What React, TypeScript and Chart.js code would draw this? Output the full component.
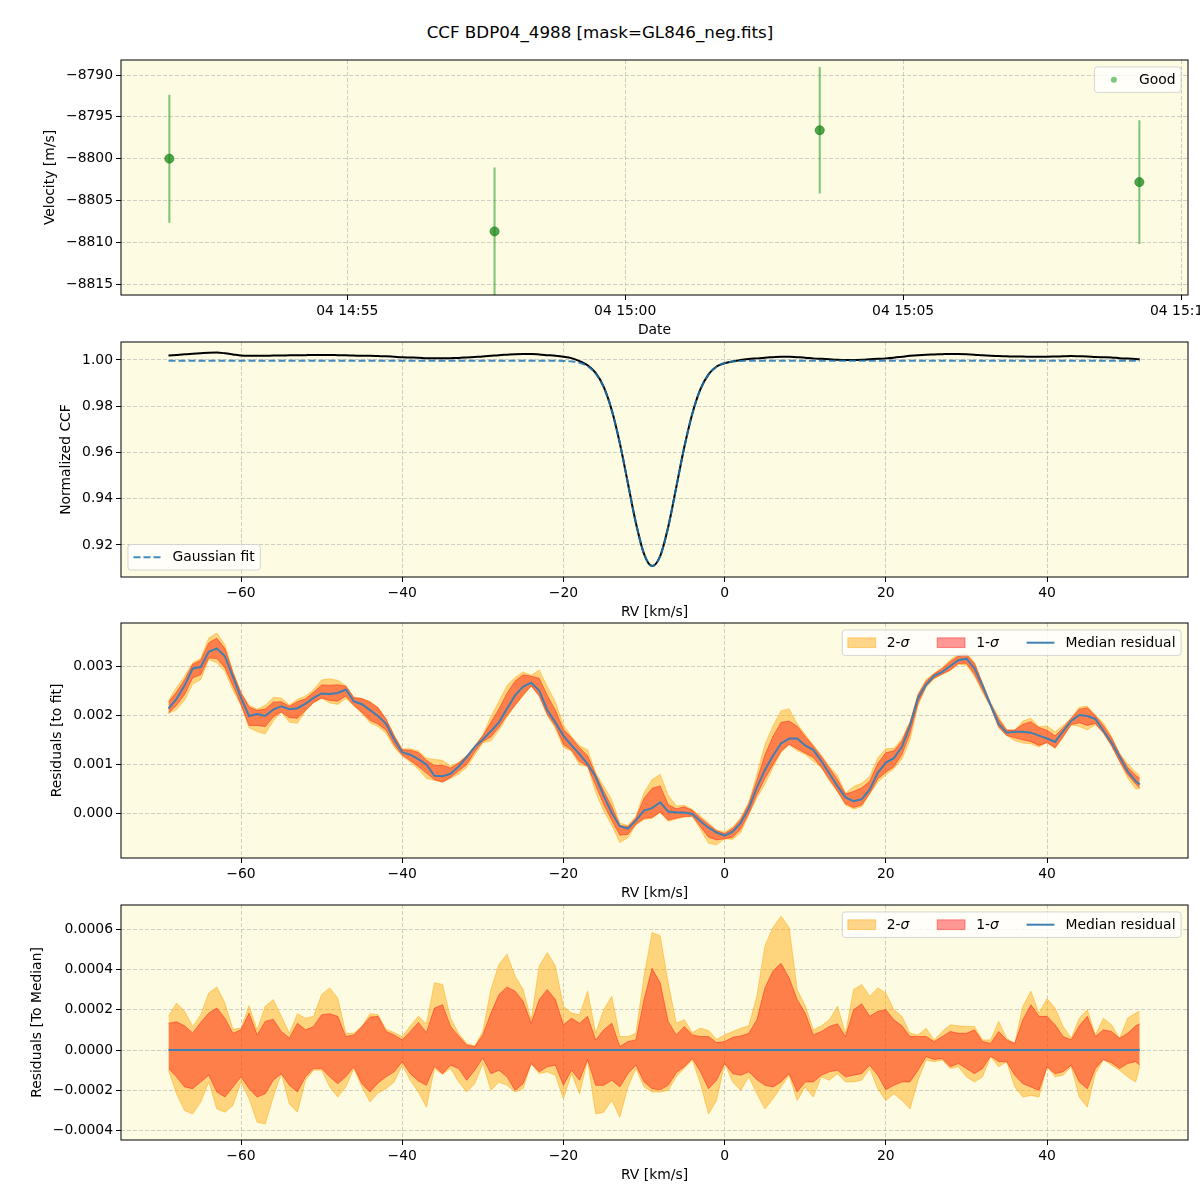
import React, { useEffect, useRef } from 'react';
import { Chart, registerables } from 'chart.js';

Chart.register(...registerables);

const FONT = '"DejaVu Sans", sans-serif';
const FS = 13.9;

// ---------- Panel 1: RV time series ----------
const OBS_TIMES = ['14:51:48', '14:57:39', '15:03:30', '15:09:15'];
const OBS_VEL = [-8800.0, -8808.7, -8796.6, -8802.8];
const OBS_ERR = [7.65, 7.65, 7.55, 7.4];
const TIME_TICKS = ['14:55', '15:00', '15:05', '15:10'];
const VEL_TICKS = [-8815, -8810, -8805, -8800, -8795, -8790];

// ---------- Panels 2-4: CCF and residuals ----------
const RV = [
  -69, -68, -67, -66, -65, -64, -63, -62, -61, -60,
  -59, -58, -57, -56, -55, -54, -53, -52, -51, -50,
  -49, -48, -47, -46, -45, -44, -43, -42, -41, -40,
  -39, -38, -37, -36, -35, -34, -33, -32, -31, -30,
  -29, -28, -27, -26, -25, -24, -23, -22, -21, -20,
  -19, -18, -17, -16, -15, -14, -13, -12, -11, -10,
  -9, -8, -7, -6, -5, -4, -3, -2, -1, 0,
  1, 2, 3, 4, 5, 6, 7, 8, 9, 10,
  11, 12, 13, 14, 15, 16, 17, 18, 19, 20,
  21, 22, 23, 24, 25, 26, 27, 28, 29, 30,
  31, 32, 33, 34, 35, 36, 37, 38, 39, 40,
  41, 42, 43, 44, 45, 46, 47, 48, 49, 50,
  51, 51.5,
];

const CCF = [
  1.0019, 1.0022, 1.0025, 1.0027, 1.0029, 1.0031, 1.0032, 1.0029, 1.0024, 1.0019,
  1.0018, 1.0018, 1.0018, 1.0019, 1.0019, 1.0020, 1.0020, 1.0021, 1.0022, 1.0022,
  1.0022, 1.0021, 1.0020, 1.0019, 1.0018, 1.0018, 1.0017, 1.0016, 1.0014, 1.0012,
  1.0011, 1.0010, 1.0008, 1.0007, 1.0007, 1.0008, 1.0009, 1.0011, 1.0013, 1.0015,
  1.0018, 1.0021, 1.0023, 1.0025, 1.0026, 1.0026, 1.0024, 1.0021, 1.0018, 1.0014,
  1.0008, 0.9995, 0.9977, 0.9944, 0.9884, 0.9783, 0.9640, 0.9467, 0.9294, 0.9162,
  0.9109, 0.9152, 0.9278, 0.9450, 0.9624, 0.9769, 0.9874, 0.9938, 0.9972, 0.9986,
  0.9994, 1.0000, 1.0004, 1.0007, 1.0010, 1.0012, 1.0014, 1.0014, 1.0012, 1.0010,
  1.0007, 1.0005, 1.0003, 1.0001, 1.0000, 1.0000, 1.0001, 1.0003, 1.0005, 1.0007,
  1.0010, 1.0014, 1.0018, 1.0021, 1.0023, 1.0024, 1.0025, 1.0026, 1.0026, 1.0025,
  1.0023, 1.0020, 1.0018, 1.0017, 1.0016, 1.0015, 1.0015, 1.0014, 1.0014, 1.0014,
  1.0015, 1.0016, 1.0017, 1.0016, 1.0015, 1.0013, 1.0012, 1.0011, 1.0008, 1.0006,
  1.0004, 1.0003,
];

const GAUSS_FIT = [
  0.9997, 0.9997, 0.9997, 0.9997, 0.9997, 0.9997, 0.9997, 0.9997, 0.9997, 0.9997,
  0.9997, 0.9997, 0.9997, 0.9997, 0.9997, 0.9997, 0.9997, 0.9997, 0.9997, 0.9997,
  0.9997, 0.9997, 0.9997, 0.9997, 0.9997, 0.9997, 0.9997, 0.9997, 0.9997, 0.9997,
  0.9997, 0.9997, 0.9997, 0.9997, 0.9997, 0.9997, 0.9997, 0.9997, 0.9997, 0.9997,
  0.9997, 0.9997, 0.9997, 0.9997, 0.9997, 0.9997, 0.9997, 0.9997, 0.9997, 0.9996,
  0.9994, 0.9988, 0.9973, 0.9941, 0.9881, 0.9782, 0.9640, 0.9467, 0.9294, 0.9162,
  0.9109, 0.9152, 0.9278, 0.9450, 0.9624, 0.9769, 0.9873, 0.9936, 0.9970, 0.9987,
  0.9993, 0.9996, 0.9997, 0.9997, 0.9997, 0.9997, 0.9997, 0.9997, 0.9997, 0.9997,
  0.9997, 0.9997, 0.9997, 0.9997, 0.9997, 0.9997, 0.9997, 0.9997, 0.9997, 0.9997,
  0.9997, 0.9997, 0.9997, 0.9997, 0.9997, 0.9997, 0.9997, 0.9997, 0.9997, 0.9997,
  0.9997, 0.9997, 0.9997, 0.9997, 0.9997, 0.9997, 0.9997, 0.9997, 0.9997, 0.9997,
  0.9997, 0.9997, 0.9997, 0.9997, 0.9997, 0.9997, 0.9997, 0.9997, 0.9997, 0.9997,
  0.9997, 0.9997,
];

const MEDIAN_RESID = [
  2.13e-3, 2.33e-3, 2.60e-3, 2.95e-3, 2.98e-3, 3.29e-3, 3.36e-3, 3.20e-3, 2.78e-3, 2.35e-3,
  1.98e-3, 2.02e-3, 1.98e-3, 2.11e-3, 2.18e-3, 2.12e-3, 2.14e-3, 2.23e-3, 2.35e-3, 2.44e-3,
  2.43e-3, 2.45e-3, 2.52e-3, 2.28e-3, 2.22e-3, 2.10e-3, 1.98e-3, 1.82e-3, 1.50e-3, 1.24e-3,
  1.19e-3, 1.10e-3, 0.99e-3, 0.76e-3, 0.75e-3, 0.80e-3, 0.95e-3, 1.14e-3, 1.35e-3, 1.50e-3,
  1.67e-3, 1.85e-3, 2.13e-3, 2.40e-3, 2.58e-3, 2.66e-3, 2.50e-3, 2.10e-3, 1.85e-3, 1.58e-3,
  1.38e-3, 1.20e-3, 1.00e-3, 0.74e-3, 0.35e-3, 0.00e-3, -0.27e-3, -0.32e-3, -0.15e-3, 0.05e-3,
  0.10e-3, 0.22e-3, 0.03e-3, 0.01e-3, 0.01e-3, -0.02e-3, -0.17e-3, -0.30e-3, -0.40e-3, -0.46e-3,
  -0.38e-3, -0.20e-3, 0.10e-3, 0.52e-3, 0.88e-3, 1.17e-3, 1.42e-3, 1.52e-3, 1.52e-3, 1.38e-3,
  1.29e-3, 1.06e-3, 0.80e-3, 0.55e-3, 0.32e-3, 0.24e-3, 0.28e-3, 0.48e-3, 0.82e-3, 1.03e-3,
  1.12e-3, 1.35e-3, 1.78e-3, 2.35e-3, 2.62e-3, 2.80e-3, 2.88e-3, 3.00e-3, 3.12e-3, 3.15e-3,
  2.95e-3, 2.60e-3, 2.20e-3, 1.82e-3, 1.64e-3, 1.66e-3, 1.66e-3, 1.64e-3, 1.58e-3, 1.52e-3,
  1.45e-3, 1.67e-3, 1.88e-3, 2.00e-3, 1.98e-3, 1.92e-3, 1.68e-3, 1.44e-3, 1.15e-3, 0.85e-3,
  0.65e-3, 0.58e-3,
];

// deviations from the median residual (upper / lower edges of the 1-sigma and 2-sigma bands)
const SIG1_HI = [
  1.33e-4, 1.40e-4, 1.20e-4, 0.85e-4, 1.37e-4, 1.83e-4, 2.08e-4, 1.58e-4, 0.83e-4, 1.00e-4,
  1.83e-4, 0.75e-4, 1.42e-4, 1.53e-4, 0.92e-4, 0.60e-4, 1.33e-4, 1.00e-4, 1.17e-4, 1.75e-4,
  1.80e-4, 1.67e-4, 0.67e-4, 0.75e-4, 1.17e-4, 1.63e-4, 1.67e-4, 0.92e-4, 0.75e-4, 0.50e-4,
  0.92e-4, 1.37e-4, 0.87e-4, 2.08e-4, 2.25e-4, 1.17e-4, 0.70e-4, 0.25e-4, 0.17e-4, 0.75e-4,
  1.83e-4, 2.75e-4, 3.13e-4, 2.92e-4, 2.42e-4, 1.33e-4, 2.50e-4, 3.00e-4, 2.50e-4, 1.25e-4,
  1.58e-4, 1.33e-4, 1.67e-4, 0.50e-4, 1.00e-4, 1.33e-4, 0.17e-4, 0.42e-4, 0.50e-4, 2.50e-4,
  4.05e-4, 3.33e-4, 1.42e-4, 0.75e-4, 1.17e-4, 0.75e-4, 0.67e-4, 0.67e-4, 0.37e-4, 0.42e-4,
  0.63e-4, 0.70e-4, 0.83e-4, 1.50e-4, 3.08e-4, 3.92e-4, 4.30e-4, 3.58e-4, 2.50e-4, 1.83e-4,
  0.75e-4, 0.92e-4, 1.17e-4, 1.30e-4, 0.67e-4, 2.00e-4, 2.30e-4, 1.67e-4, 1.92e-4, 2.00e-4,
  1.50e-4, 1.20e-4, 0.67e-4, 0.67e-4, 0.67e-4, 0.42e-4, 0.67e-4, 0.92e-4, 0.83e-4, 0.83e-4,
  1.00e-4, 0.42e-4, 0.33e-4, 0.92e-4, 0.50e-4, 0.33e-4, 1.50e-4, 2.25e-4, 1.67e-4, 1.67e-4,
  1.25e-4, 0.67e-4, 0.50e-4, 1.20e-4, 1.67e-4, 0.67e-4, 1.00e-4, 0.92e-4, 0.58e-4, 0.83e-4,
  1.20e-4, 1.30e-4,
];

const SIG2_HI = [
  1.67e-4, 2.33e-4, 1.92e-4, 1.17e-4, 1.75e-4, 2.83e-4, 3.13e-4, 2.33e-4, 1.03e-4, 1.08e-4,
  2.20e-4, 1.00e-4, 2.17e-4, 2.50e-4, 1.67e-4, 0.83e-4, 1.80e-4, 1.58e-4, 1.67e-4, 2.75e-4,
  3.08e-4, 2.58e-4, 0.83e-4, 0.83e-4, 1.17e-4, 1.80e-4, 1.75e-4, 1.03e-4, 0.87e-4, 0.67e-4,
  1.20e-4, 1.67e-4, 1.30e-4, 3.33e-4, 3.25e-4, 1.58e-4, 0.83e-4, 0.33e-4, 0.20e-4, 0.92e-4,
  3.00e-4, 4.25e-4, 4.75e-4, 3.67e-4, 3.00e-4, 1.50e-4, 4.17e-4, 4.83e-4, 4.17e-4, 2.17e-4,
  1.83e-4, 1.75e-4, 2.92e-4, 0.83e-4, 2.00e-4, 2.67e-4, 0.67e-4, 0.67e-4, 0.83e-4, 3.67e-4,
  5.83e-4, 5.67e-4, 3.33e-4, 1.33e-4, 1.50e-4, 0.87e-4, 1.08e-4, 0.97e-4, 0.53e-4, 0.75e-4,
  0.92e-4, 1.08e-4, 1.20e-4, 2.67e-4, 5.17e-4, 6.08e-4, 6.63e-4, 6.08e-4, 3.00e-4, 2.20e-4,
  1.00e-4, 1.20e-4, 1.50e-4, 2.17e-4, 0.83e-4, 3.00e-4, 3.25e-4, 2.67e-4, 3.08e-4, 2.83e-4,
  2.00e-4, 1.67e-4, 0.83e-4, 0.75e-4, 1.08e-4, 0.50e-4, 0.92e-4, 1.25e-4, 1.20e-4, 1.17e-4,
  1.17e-4, 0.50e-4, 0.50e-4, 1.42e-4, 0.58e-4, 0.33e-4, 2.17e-4, 2.92e-4, 1.83e-4, 2.55e-4,
  2.08e-4, 1.17e-4, 0.58e-4, 1.58e-4, 2.00e-4, 0.75e-4, 1.58e-4, 1.25e-4, 0.58e-4, 1.58e-4,
  1.83e-4, 1.92e-4,
];

const SIG1_LO = [
  -0.92e-4, -1.33e-4, -1.83e-4, -1.92e-4, -1.58e-4, -1.25e-4, -2.08e-4, -2.33e-4, -1.83e-4, -1.33e-4,
  -1.92e-4, -2.33e-4, -2.17e-4, -1.50e-4, -1.17e-4, -1.75e-4, -2.08e-4, -1.33e-4, -0.92e-4, -0.92e-4,
  -1.33e-4, -1.67e-4, -1.33e-4, -0.83e-4, -1.67e-4, -2.08e-4, -1.63e-4, -1.33e-4, -1.08e-4, -0.58e-4,
  -1.17e-4, -1.53e-4, -1.75e-4, -0.80e-4, -1.17e-4, -0.75e-4, -0.92e-4, -1.50e-4, -1.00e-4, -0.40e-4,
  -1.17e-4, -1.00e-4, -1.33e-4, -2.00e-4, -1.67e-4, -0.67e-4, -1.08e-4, -0.83e-4, -0.75e-4, -1.75e-4,
  -1.00e-4, -1.50e-4, -0.47e-4, -1.75e-4, -1.75e-4, -1.50e-4, -1.83e-4, -1.17e-4, -0.75e-4, -1.58e-4,
  -1.92e-4, -1.97e-4, -1.75e-4, -1.13e-4, -0.83e-4, -0.42e-4, -1.08e-4, -1.92e-4, -1.50e-4, -0.67e-4,
  -1.17e-4, -1.25e-4, -1.08e-4, -1.47e-4, -1.75e-4, -1.83e-4, -1.58e-4, -1.17e-4, -2.08e-4, -1.58e-4,
  -1.58e-4, -1.25e-4, -1.08e-4, -1.00e-4, -1.33e-4, -1.25e-4, -1.17e-4, -0.75e-4, -1.25e-4, -1.97e-4,
  -1.75e-4, -1.58e-4, -1.58e-4, -1.00e-4, -0.33e-4, -0.47e-4, -0.42e-4, -0.83e-4, -0.67e-4, -0.92e-4,
  -1.17e-4, -0.92e-4, -0.30e-4, -0.58e-4, -0.58e-4, -1.25e-4, -1.67e-4, -1.83e-4, -2.00e-4, -0.83e-4,
  -1.17e-4, -1.08e-4, -0.75e-4, -1.58e-4, -1.92e-4, -0.92e-4, -0.47e-4, -0.63e-4, -0.92e-4, -0.67e-4,
  -0.58e-4, -0.75e-4,
];

const SIG2_LO = [
  -1.00e-4, -2.17e-4, -3.00e-4, -3.17e-4, -2.58e-4, -1.58e-4, -2.92e-4, -3.08e-4, -2.75e-4, -1.58e-4,
  -2.42e-4, -3.58e-4, -3.67e-4, -2.33e-4, -1.17e-4, -2.67e-4, -3.08e-4, -1.50e-4, -1.00e-4, -1.00e-4,
  -1.83e-4, -2.33e-4, -1.83e-4, -0.92e-4, -1.83e-4, -2.58e-4, -2.13e-4, -1.92e-4, -1.58e-4, -0.75e-4,
  -1.50e-4, -2.08e-4, -2.83e-4, -0.92e-4, -1.20e-4, -0.92e-4, -1.58e-4, -2.08e-4, -1.67e-4, -0.67e-4,
  -2.00e-4, -1.58e-4, -1.75e-4, -2.08e-4, -1.92e-4, -0.67e-4, -1.17e-4, -1.08e-4, -1.25e-4, -2.42e-4,
  -1.17e-4, -2.17e-4, -0.50e-4, -3.17e-4, -3.08e-4, -2.50e-4, -3.33e-4, -1.83e-4, -0.92e-4, -1.83e-4,
  -2.08e-4, -2.08e-4, -2.00e-4, -1.33e-4, -0.90e-4, -0.50e-4, -1.67e-4, -3.17e-4, -2.50e-4, -0.67e-4,
  -1.58e-4, -2.00e-4, -1.33e-4, -2.17e-4, -2.92e-4, -2.42e-4, -1.83e-4, -1.25e-4, -2.50e-4, -1.83e-4,
  -2.33e-4, -1.33e-4, -1.50e-4, -1.17e-4, -1.58e-4, -1.58e-4, -1.50e-4, -0.92e-4, -1.92e-4, -2.50e-4,
  -2.17e-4, -2.50e-4, -2.92e-4, -1.50e-4, -0.50e-4, -0.58e-4, -0.50e-4, -0.92e-4, -0.83e-4, -1.33e-4,
  -1.58e-4, -1.33e-4, -0.33e-4, -0.83e-4, -0.58e-4, -1.83e-4, -2.33e-4, -2.25e-4, -2.33e-4, -0.83e-4,
  -1.33e-4, -1.25e-4, -0.83e-4, -2.33e-4, -2.83e-4, -1.17e-4, -0.47e-4, -0.75e-4, -1.00e-4, -1.33e-4,
  -1.58e-4, -0.83e-4,
];

const RV_TICKS = [-60, -40, -20, 0, 20, 40];
const CCF_TICKS = [0.92, 0.94, 0.96, 0.98, 1.0];
const RESID_TICKS = [0, 0.001, 0.002, 0.003];
const DEV_TICKS = [-0.0004, -0.0002, 0, 0.0002, 0.0004, 0.0006];

// ---------- styles ----------
const BG = 'rgb(253, 251, 226)';
const GRID = 'rgba(176, 176, 176, 0.6)';
const S2_FILL = 'rgba(255, 165, 0, 0.45)';
const S1_FILL = 'rgba(255, 0, 0, 0.4)';
const MED_COLOR = '#3f7fb4';
const Y_AXIS_W = 121;
const X_AXIS_H = 44;
const PAD_TOP = 10;
const CANVAS_H = PAD_TOP + 235 + X_AXIS_H;

const toMin = (t: string) => {
  const p = t.split(':').map(Number);
  return p[0] * 60 + p[1] + (p[2] || 0) / 60;
};
const pad2 = (n: number) => String(n).padStart(2, '0');
const minus = (s: string) => s.replace(/-/g, '\u2212');

type Part = { t: string; italic?: boolean };
type LItem = { kind: 'patch' | 'line' | 'dot'; color: string; dash?: number[]; width?: number; parts: Part[] };
type LegendSpec = { corner: 'tr' | 'bl'; items: LItem[] };

function drawLegend(chart: any, spec: LegendSpec) {
  const { ctx, chartArea: a } = chart;
  const fN = `${FS}px ${FONT}`;
  const fI = `italic ${FS}px ${FONT}`;
  const handle = 2 * FS, tpad = 0.8 * FS, colsp = 2 * FS, bpad = 0.4 * FS, apad = 0.5 * FS;
  ctx.save();
  const tw = spec.items.map((it) =>
    it.parts.reduce((s, p) => {
      ctx.font = p.italic ? fI : fN;
      return s + ctx.measureText(p.t).width;
    }, 0)
  );
  const w = 2 * bpad + spec.items.reduce((s, _it, i) => s + handle + tpad + tw[i], 0) + colsp * (spec.items.length - 1);
  const h = 25.5;
  const left = spec.corner === 'tr' ? a.right - apad - w : a.left + apad;
  const top = spec.corner === 'tr' ? a.top + apad : a.bottom - apad - h;
  ctx.beginPath();
  if ((ctx as any).roundRect) (ctx as any).roundRect(left, top, w, h, 3);
  else ctx.rect(left, top, w, h);
  ctx.fillStyle = 'rgba(255,255,255,0.8)';
  ctx.fill();
  ctx.strokeStyle = 'rgba(204,204,204,0.8)';
  ctx.lineWidth = 1;
  ctx.stroke();
  const cy = top + h / 2;
  let x = left + bpad;
  spec.items.forEach((it, i) => {
    if (it.kind === 'patch') {
      ctx.fillStyle = it.color;
      ctx.fillRect(x, cy - 0.35 * FS, handle, 0.7 * FS);
      ctx.strokeStyle = it.color;
      ctx.lineWidth = 1;
      ctx.strokeRect(x, cy - 0.35 * FS, handle, 0.7 * FS);
    } else if (it.kind === 'line') {
      ctx.beginPath();
      ctx.setLineDash(it.dash || []);
      ctx.strokeStyle = it.color;
      ctx.lineWidth = it.width || 2;
      ctx.moveTo(x, cy);
      ctx.lineTo(x + handle, cy);
      ctx.stroke();
      ctx.setLineDash([]);
    } else {
      ctx.beginPath();
      ctx.fillStyle = it.color;
      ctx.arc(x + handle / 2, cy, 3, 0, Math.PI * 2);
      ctx.fill();
    }
    let tx = x + handle + tpad;
    ctx.fillStyle = '#000';
    ctx.textBaseline = 'middle';
    ctx.textAlign = 'left';
    it.parts.forEach((p) => {
      ctx.font = p.italic ? fI : fN;
      ctx.fillText(p.t, tx, cy + 0.5);
      tx += ctx.measureText(p.t).width;
    });
    x += handle + tpad + tw[i] + colsp;
  });
  ctx.restore();
}

function decoPlugin(legend: LegendSpec) {
  return {
    id: 'deco',
    beforeDraw(chart: any) {
      const { ctx, chartArea: a } = chart;
      ctx.save();
      ctx.fillStyle = BG;
      ctx.fillRect(a.left, a.top, a.right - a.left, a.bottom - a.top);
      ctx.restore();
    },
    afterDraw(chart: any) {
      const { ctx, chartArea: a } = chart;
      ctx.save();
      ctx.strokeStyle = '#000';
      ctx.lineWidth = 1;
      ctx.strokeRect(a.left, a.top, a.right - a.left, a.bottom - a.top);
      ctx.restore();
      drawLegend(chart, legend);
    },
  };
}

const tickFont = { family: FONT, size: FS };

function xScale(min: number, max: number, ticks: number[], fmt: (v: number) => string, title: string) {
  return {
    type: 'linear',
    min,
    max,
    afterBuildTicks: (s: any) => {
      s.ticks = ticks.map((v) => ({ value: v }));
    },
    afterFit: (s: any) => {
      s.height = X_AXIS_H;
      s.paddingLeft = 0;
      s.paddingRight = 0;
    },
    ticks: {
      callback: (v: any) => fmt(Number(v)),
      autoSkip: false,
      maxRotation: 0,
      minRotation: 0,
      padding: 3,
      color: '#000',
      font: tickFont,
    },
    grid: { color: GRID, lineWidth: 1, drawTicks: true, tickLength: 5, tickColor: '#000', tickWidth: 1 },
    border: { display: false, dash: [4, 2] },
    title: { display: true, text: title, color: '#000', font: tickFont, padding: { top: 0, bottom: 0.66 } },
  };
}

function yScale(min: number, max: number, ticks: number[], decimals: number, title: string, titleX: number) {
  return {
    type: 'linear',
    min,
    max,
    afterBuildTicks: (s: any) => {
      s.ticks = ticks.map((v) => ({ value: v }));
    },
    afterFit: (s: any) => {
      s.width = Y_AXIS_W;
      s.paddingTop = 0;
      s.paddingBottom = 0;
    },
    ticks: {
      callback: (v: any) => minus(Number(v).toFixed(decimals)),
      padding: 3,
      color: '#000',
      font: tickFont,
    },
    grid: { color: GRID, lineWidth: 1, drawTicks: true, tickLength: 5, tickColor: '#000', tickWidth: 1 },
    border: { display: false, dash: [4, 2] },
    title: { display: true, text: title, color: '#000', font: tickFont, padding: { top: titleX - FS * 0.6, bottom: 0 } },
  };
}

function baseOptions(scales: any) {
  return {
    responsive: false,
    animation: false as const,
    events: [] as any[],
    layout: { padding: { top: PAD_TOP, right: 12, left: 0, bottom: 0 } },
    plugins: { legend: { display: false }, tooltip: { enabled: false }, title: { display: false } },
    elements: { point: { radius: 0 } },
    scales,
  };
}

const pts = (ys: number[]) => RV.map((x, i) => ({ x, y: ys[i] }));

const sigmaLegend = (): LegendSpec => ({
  corner: 'tr',
  items: [
    { kind: 'patch', color: S2_FILL, parts: [{ t: '2-' }, { t: '\u03c3', italic: true }] },
    { kind: 'patch', color: S1_FILL, parts: [{ t: '1-' }, { t: '\u03c3', italic: true }] },
    { kind: 'line', color: MED_COLOR, width: 2, parts: [{ t: 'Median residual' }] },
  ],
});

function buildPanel1(): any {
  const xs = OBS_TIMES.map(toMin);
  const errData: any[] = [];
  xs.forEach((x, i) => {
    errData.push({ x, y: OBS_VEL[i] - OBS_ERR[i] });
    errData.push({ x, y: OBS_VEL[i] + OBS_ERR[i] });
    errData.push({ x, y: null });
  });
  const fmtTime = (v: number) => `04 ${pad2(Math.floor(v / 60))}:${pad2(Math.round(v % 60))}`;
  return {
    type: 'line',
    data: {
      datasets: [
        {
          data: xs.map((x, i) => ({ x, y: OBS_VEL[i] })),
          showLine: false,
          pointRadius: 4.5,
          pointBackgroundColor: 'rgba(25, 135, 25, 0.75)',
          pointBorderColor: 'rgba(25, 135, 25, 0.75)',
          pointBorderWidth: 1,
        },
        {
          data: errData,
          borderColor: 'rgba(40, 160, 40, 0.6)',
          borderWidth: 2,
          pointRadius: 0,
          spanGaps: false,
          fill: false,
        },
      ],
    },
    options: baseOptions({
      x: xScale(890.93, 910.125, TIME_TICKS.map(toMin), fmtTime, 'Date'),
      y: yScale(-8816.3, -8788.2, VEL_TICKS, 0, 'Velocity [m/s]', 50),
    }),
    plugins: [
      decoPlugin({ corner: 'tr', items: [{ kind: 'dot', color: 'rgba(40, 160, 40, 0.6)', parts: [{ t: 'Good' }] }] }),
    ],
  };
}

const fmtRV = (v: number) => minus(String(Math.round(v)));

function buildPanel2(): any {
  return {
    type: 'line',
    data: {
      datasets: [
        {
          data: pts(GAUSS_FIT),
          borderColor: 'rgba(31, 119, 180, 0.85)',
          borderWidth: 2,
          borderDash: [7, 3],
          pointRadius: 0,
          cubicInterpolationMode: 'monotone',
          fill: false,
        },
        {
          data: pts(CCF),
          borderColor: '#000',
          borderWidth: 2,
          pointRadius: 0,
          cubicInterpolationMode: 'monotone',
          fill: false,
        },
      ],
    },
    options: baseOptions({
      x: xScale(-74.89, 57.49, RV_TICKS, fmtRV, 'RV [km/s]'),
      y: yScale(0.90616, 1.00778, CCF_TICKS, 2, 'Normalized CCF', 66),
    }),
    plugins: [
      decoPlugin({
        corner: 'bl',
        items: [{ kind: 'line', color: 'rgba(31, 119, 180, 0.85)', dash: [7, 3], width: 2, parts: [{ t: 'Gaussian fit' }] }],
      }),
    ],
  };
}

function bandDatasets(center: number[], line: any) {
  const add = (d: number[]) => center.map((m, i) => m + d[i]);
  return [
    line,
    { data: pts(add(SIG1_HI)), borderColor: S1_FILL, backgroundColor: S1_FILL, borderWidth: 1, pointRadius: 0, tension: 0, fill: '+1' },
    { data: pts(add(SIG1_LO)), borderColor: S1_FILL, borderWidth: 1, pointRadius: 0, tension: 0, fill: false },
    { data: pts(add(SIG2_HI)), borderColor: S2_FILL, backgroundColor: S2_FILL, borderWidth: 1, pointRadius: 0, tension: 0, fill: '+1' },
    { data: pts(add(SIG2_LO)), borderColor: S2_FILL, borderWidth: 1, pointRadius: 0, tension: 0, fill: false },
  ];
}

function buildPanel3(): any {
  return {
    type: 'line',
    data: {
      datasets: bandDatasets(MEDIAN_RESID, {
        data: pts(MEDIAN_RESID),
        borderColor: MED_COLOR,
        borderWidth: 2,
        pointRadius: 0,
        tension: 0,
        fill: false,
      }),
    },
    options: baseOptions({
      x: xScale(-74.89, 57.49, RV_TICKS, fmtRV, 'RV [km/s]'),
      y: yScale(-0.000918, 0.003878, RESID_TICKS, 3, 'Residuals [to fit]', 57),
    }),
    plugins: [decoPlugin(sigmaLegend())],
  };
}

function buildPanel4(): any {
  const zero = MEDIAN_RESID.map((m) => m - m);
  return {
    type: 'line',
    data: {
      datasets: bandDatasets(zero, {
        data: pts(zero),
        borderColor: MED_COLOR,
        borderWidth: 2,
        pointRadius: 0,
        tension: 0,
        fill: false,
      }),
    },
    options: baseOptions({
      x: xScale(-74.89, 57.49, RV_TICKS, fmtRV, 'RV [km/s]'),
      y: yScale(-0.000446, 0.000719, DEV_TICKS, 4, 'Residuals [To Median]', 37),
    }),
    plugins: [decoPlugin(sigmaLegend())],
  };
}

function usePanel(build: () => any) {
  const ref = useRef<HTMLCanvasElement>(null);
  useEffect(() => {
    if (!ref.current) return;
    const chart = new Chart(ref.current, build());
    return () => chart.destroy();
  }, []);
  return ref;
}

const canvasStyle = (top: number): React.CSSProperties => ({
  position: 'absolute',
  left: 0,
  top,
  width: 1200,
  height: CANVAS_H,
});

export default function App() {
  const r1 = usePanel(buildPanel1);
  const r2 = usePanel(buildPanel2);
  const r3 = usePanel(buildPanel3);
  const r4 = usePanel(buildPanel4);
  return (
    <div style={{ position: 'absolute', left: 0, top: 0, width: 1200, height: 1200, background: '#fff', overflow: 'hidden' }}>
      <div
        style={{
          position: 'absolute',
          left: 0,
          top: 22,
          width: 1200,
          textAlign: 'center',
          fontFamily: FONT,
          fontSize: 16.7,
          lineHeight: '20px',
          color: '#000',
        }}
      >
        CCF BDP04_4988 [mask=GL846_neg.fits]
      </div>
      <canvas ref={r1} width={1200} height={CANVAS_H} style={canvasStyle(60 - PAD_TOP)} />
      <canvas ref={r2} width={1200} height={CANVAS_H} style={canvasStyle(342 - PAD_TOP)} />
      <canvas ref={r3} width={1200} height={CANVAS_H} style={canvasStyle(623 - PAD_TOP)} />
      <canvas ref={r4} width={1200} height={CANVAS_H} style={canvasStyle(905 - PAD_TOP)} />
    </div>
  );
}
